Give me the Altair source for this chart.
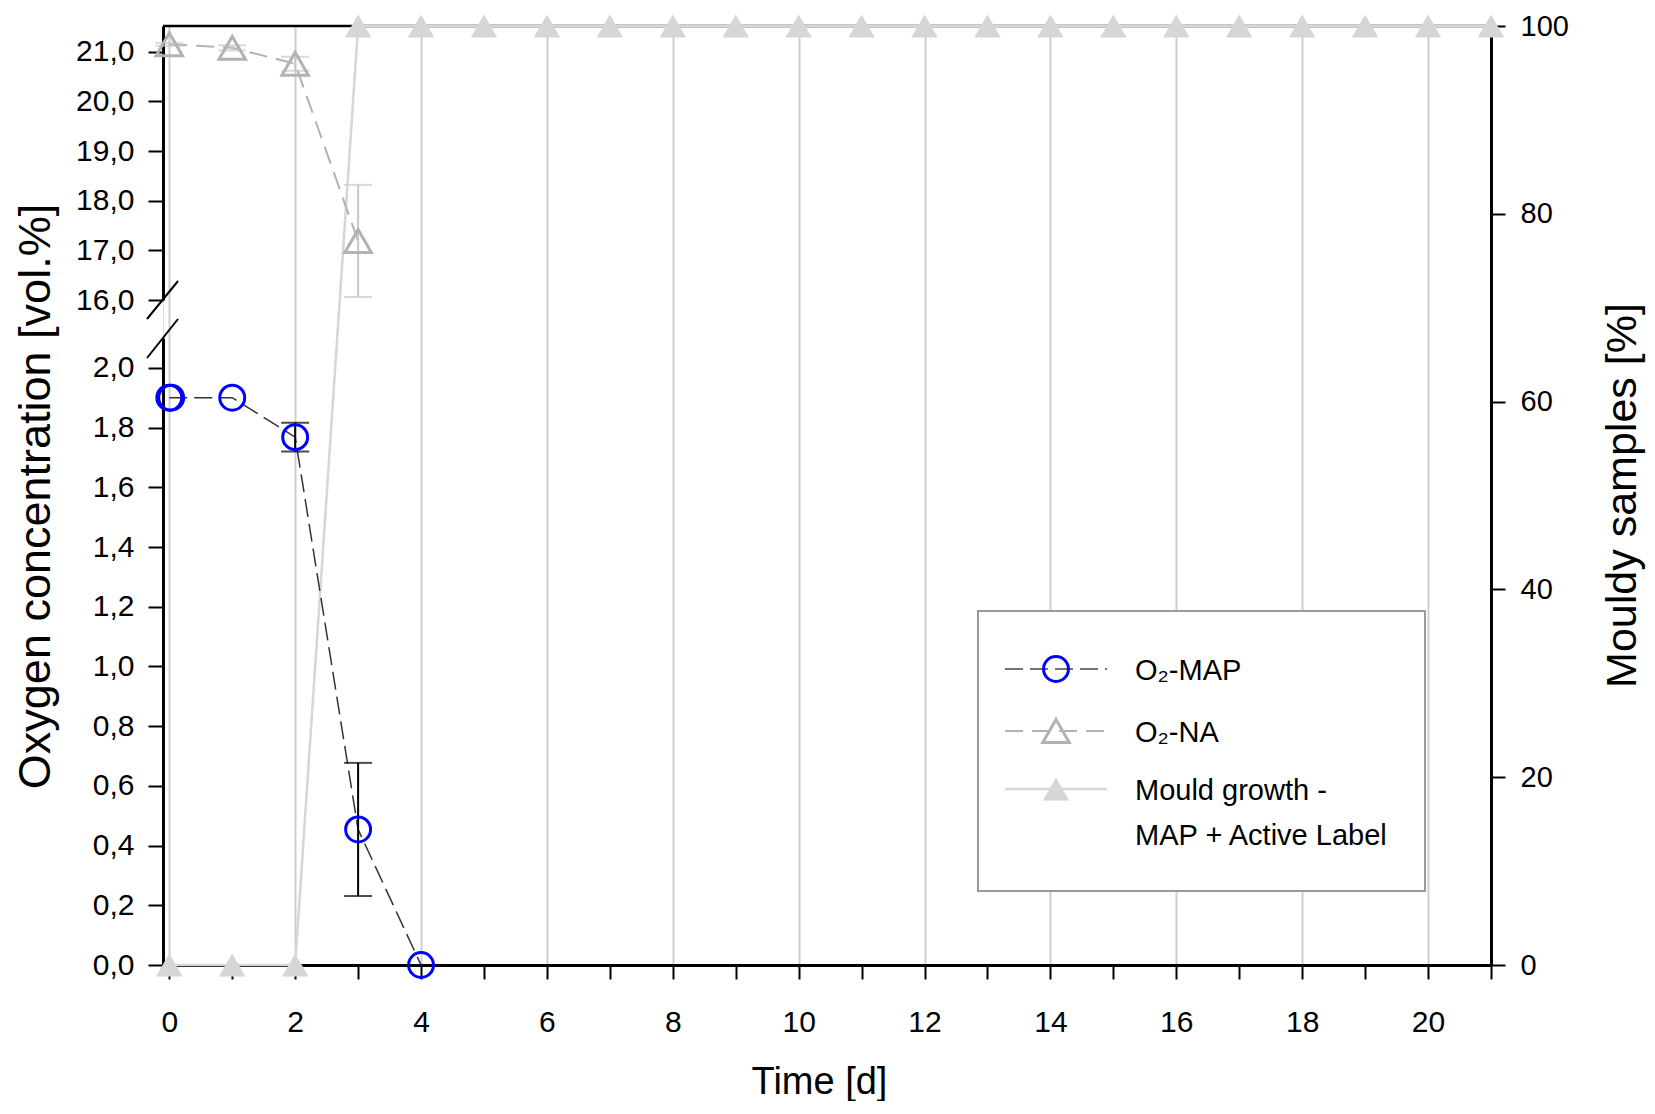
import altair as alt
import pandas as pd

# ---------------- data ----------------
MAP_DAYS = [0, 0.03, 1, 2, 3, 4]
MAP_O2 = [1.90, 1.90, 1.90, 1.768, 0.454, 0.0]
MAP_ERR = [0.0, 0.0, 0.0, 0.048, 0.223, 0.0]

NA_DAYS = [0, 1, 2, 3]
NA_O2 = [21.15, 21.08, 20.76, 17.19]
NA_ERR = [0.03, 0.05, 0.14, 1.13]

MOULD_DAYS = list(range(0, 22))
MOULD_PCT = [0, 0, 0] + [100] * 19

X_TICKS = list(range(0, 22))
UPPER_TICKS = [16, 17, 18, 19, 20, 21]
LOWER_TICKS = [0.0, 0.2, 0.4, 0.6, 0.8, 1.0, 1.2, 1.4, 1.6, 1.8, 2.0]
RIGHT_TICKS = [0, 20, 40, 60, 80, 100]

LEGEND_LABELS = ["O\u2082-MAP", "O\u2082-NA", "Mould growth -\nMAP + Active Label"]

# ---------------- tables ----------------
map_df = pd.DataFrame({"day": MAP_DAYS, "o2": MAP_O2, "err": MAP_ERR})
map_df["lo"] = map_df["o2"] - map_df["err"]
map_df["hi"] = map_df["o2"] + map_df["err"]
map_err_df = map_df[map_df["err"] > 0]

na_df = pd.DataFrame({"day": NA_DAYS, "o2": NA_O2, "err": NA_ERR})
na_df["lo"] = na_df["o2"] - na_df["err"]
na_df["hi"] = na_df["o2"] + na_df["err"]

mould_df = pd.DataFrame({"day": MOULD_DAYS, "pct": MOULD_PCT})

W, H = 1328, 939
FONT = "Liberation Sans, Arial, sans-serif"
BLUE = "#0000ff"
NA_GRAY = "#b2b2b2"
MOULD_GRAY = "#d6d6d6"

comma_fmt = "replace(format(datum.value, '.1f'), '.', ',')"

x_axis = alt.Axis(
    values=X_TICKS,
    labelExpr="datum.value % 2 === 0 ? datum.label : ''",
    grid=True,
    gridColor="#cfcfcf",
    gridWidth=2,
    gridOpacity={"condition": {"test": "datum.value % 2 === 0", "value": 1}, "value": 0},
    domainColor="black",
    domainWidth=3,
    tickColor="black",
    tickWidth=2,
    tickSize=14,
    labelFont=FONT,
    labelFontSize=30,
    labelColor="black",
    labelPadding=28,
    labelFlush=False,
    labelOverlap=False,
    title="Time [d]",
    titleFont=FONT,
    titleFontSize=38,
    titleFontWeight="normal",
    titleColor="black",
    titleX=656,
    titleY=128,
    titleBaseline="alphabetic",
)
X = alt.X("day:Q", scale=alt.Scale(domain=[-0.1, 21], nice=False, zero=False), axis=x_axis)

upper_scale = alt.Scale(domain=[16, 21.52], range=[274, 0], nice=False, zero=False)
lower_scale = alt.Scale(domain=[0, 2.1], range=[H, 312], nice=False, zero=False)
mould_scale = alt.Scale(domain=[0, 100], range=[H, 0], nice=False, zero=False)

common_y = dict(
    domainColor="black", domainWidth=3, tickColor="black", tickWidth=2,
    labelFont=FONT, labelColor="black", grid=False,
)

upper_axis = alt.Axis(values=UPPER_TICKS, labelExpr=comma_fmt, orient="left",
                      tickSize=15, labelPadding=14, labelFontSize=30, title=None, **common_y)
lower_axis = alt.Axis(values=LOWER_TICKS, labelExpr=comma_fmt, orient="left",
                      tickSize=15, labelPadding=14, labelFontSize=30,
                      title="Oxygen concentration [vol.%]",
                      titleFont=FONT, titleFontSize=45,
                      titleFontWeight="normal", titleColor="black",
                      titleAngle=270, titleX=-128, titleY=470,
                      titleBaseline="middle", titleAlign="center", **common_y)
mould_axis = alt.Axis(values=RIGHT_TICKS, orient="right", tickSize=14, labelPadding=15,
                      labelFontSize=29,
                      title="Mouldy samples [%]",
                      titleFont=FONT, titleFontSize=43,
                      titleFontWeight="normal", titleColor="black",
                      titleAngle=270, titleX=131, titleY=469,
                      titleBaseline="middle", titleAlign="center", **common_y)

one = alt.Data(values=[{}])

# frame top line
top_rule = alt.Chart(one).mark_rule(color="black", strokeWidth=2.5).encode(
    x=alt.value(0), x2=alt.value(W), y=alt.value(0))

# mould growth
mould_line = alt.Chart(mould_df).mark_line(color=MOULD_GRAY, strokeWidth=2.5).encode(
    x=X, y=alt.Y("pct:Q", scale=mould_scale, axis=mould_axis))
mould_pts = alt.Chart(mould_df).mark_point(shape="triangle-up", filled=True, color=MOULD_GRAY,
                                           size=700, opacity=1).encode(
    x=X, y=alt.Y("pct:Q", scale=mould_scale, axis=None))

# O2-NA (upper segment)
na_line = alt.Chart(na_df).mark_line(color=NA_GRAY, strokeWidth=2, strokeDash=[18, 9]).encode(
    x=X, y=alt.Y("o2:Q", scale=upper_scale, axis=upper_axis))
na_err = alt.Chart(na_df).mark_rule(color="#c8c8c8", strokeWidth=2).encode(
    x=X, y=alt.Y("lo:Q", scale=upper_scale, axis=None), y2="hi:Q")
na_cap_lo = alt.Chart(na_df).mark_tick(orient="horizontal", color="#c8c8c8", thickness=2, size=28).encode(
    x=X, y=alt.Y("lo:Q", scale=upper_scale, axis=None))
na_cap_hi = alt.Chart(na_df).mark_tick(orient="horizontal", color="#c8c8c8", thickness=2, size=28).encode(
    x=X, y=alt.Y("hi:Q", scale=upper_scale, axis=None))
na_pts = alt.Chart(na_df).mark_point(shape="triangle-up", filled=False, color=NA_GRAY,
                                     strokeWidth=3, size=700, opacity=1).encode(
    x=X, y=alt.Y("o2:Q", scale=upper_scale, axis=None))

# O2-MAP (lower segment)
map_line = alt.Chart(map_df).mark_line(color="#333333", strokeWidth=1.5, strokeDash=[18, 7]).encode(
    x=X, y=alt.Y("o2:Q", scale=lower_scale, axis=lower_axis))
map_err = alt.Chart(map_err_df).mark_rule(color="black", strokeWidth=2).encode(
    x=X, y=alt.Y("lo:Q", scale=lower_scale, axis=None), y2="hi:Q")
map_cap_lo = alt.Chart(map_err_df).mark_tick(orient="horizontal", color="black", thickness=2, size=28).encode(
    x=X, y=alt.Y("lo:Q", scale=lower_scale, axis=None))
map_cap_hi = alt.Chart(map_err_df).mark_tick(orient="horizontal", color="black", thickness=2, size=28).encode(
    x=X, y=alt.Y("hi:Q", scale=lower_scale, axis=None))
map_pts = alt.Chart(map_df).mark_point(shape="circle", filled=False, color=BLUE,
                                       strokeWidth=3, size=620, opacity=1).encode(
    x=X, y=alt.Y("o2:Q", scale=lower_scale, axis=None))

# axis break slashes
slash1 = alt.Chart(one).mark_rule(color="black", strokeWidth=2).encode(
    x=alt.value(-16), y=alt.value(293), x2=alt.value(15), y2=alt.value(255))
slash2 = alt.Chart(one).mark_rule(color="black", strokeWidth=2).encode(
    x=alt.value(-16), y=alt.value(332), x2=alt.value(15), y2=alt.value(293))

# ---------------- legend ----------------
LX0, LX1, LSYM, LTXT = 842, 944, 893, 972
ROWS = [643, 705, 763]
legend_box = alt.Chart(one).mark_rect(fill="white", stroke="#9a9a9a", strokeWidth=2).encode(
    x=alt.value(815), x2=alt.value(1262), y=alt.value(585), y2=alt.value(865))

def leg_line(y, color, width, dash=None):
    kw = dict(color=color, strokeWidth=width)
    if dash:
        kw["strokeDash"] = dash
    return alt.Chart(one).mark_rule(**kw).encode(
        x=alt.value(LX0), x2=alt.value(LX1), y=alt.value(y))

def leg_sym(y, **kw):
    return alt.Chart(one).mark_point(opacity=1, **kw).encode(
        x=alt.value(LSYM), y=alt.value(y))

def leg_text(y, label):
    return alt.Chart(alt.Data(values=[{"t": label}])).mark_text(
        align="left", baseline="alphabetic", font=FONT, fontSize=29, color="black",
        lineBreak="\n", lineHeight=45).encode(
        x=alt.value(LTXT), y=alt.value(y + 11), text="t:N")

legend_layers = [
    legend_box,
    leg_line(ROWS[0], "#444444", 1.5, [18, 7]),
    leg_sym(ROWS[0], shape="circle", filled=False, color=BLUE, strokeWidth=3, size=620),
    leg_text(ROWS[0], LEGEND_LABELS[0]),
    leg_line(ROWS[1], NA_GRAY, 2, [18, 9]),
    leg_sym(ROWS[1], shape="triangle-up", filled=False, color=NA_GRAY, strokeWidth=3, size=700),
    leg_text(ROWS[1], LEGEND_LABELS[1]),
    leg_line(ROWS[2], MOULD_GRAY, 2.5),
    leg_sym(ROWS[2], shape="triangle-up", filled=True, color=MOULD_GRAY, size=700),
    leg_text(ROWS[2], LEGEND_LABELS[2]),
]

chart = alt.layer(
    top_rule,
    mould_line, mould_pts,
    na_line, na_err, na_cap_lo, na_cap_hi, na_pts,
    map_line, map_err, map_cap_lo, map_cap_hi, map_pts,
    slash1, slash2,
    *legend_layers,
).resolve_scale(y="independent").properties(
    width=W, height=H,
    autosize=alt.AutoSizeParams(type="none"),
    padding={"left": 155, "top": 18, "right": 156, "bottom": 136},
).configure_view(stroke=None).configure(background="white")

chart.save("out.html", embed_options={"renderer": "svg", "actions": False})
